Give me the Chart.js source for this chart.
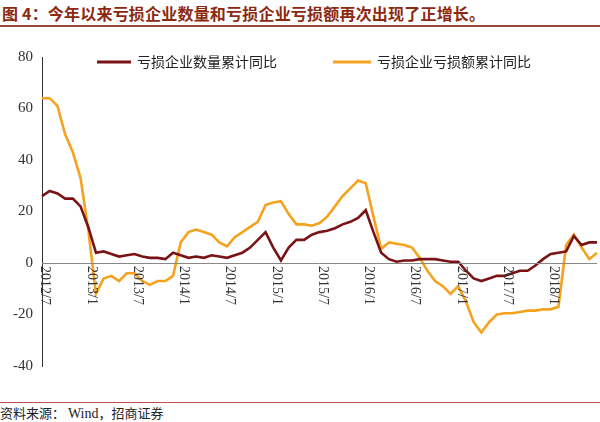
<!DOCTYPE html>
<html><head><meta charset="utf-8">
<script src="https://cdn.jsdelivr.net/npm/chart.js@4"></script>
<style>
body{margin:0;width:600px;height:422px;background:#fff;position:relative;overflow:hidden;font-family:"Noto Sans CJK SC";}
#t{position:absolute;left:2px;top:1px;font-size:16px;font-weight:bold;color:#8B2A10;white-space:nowrap;letter-spacing:0.2px;}
#tl{position:absolute;left:0;top:25px;width:600px;height:1.5px;background:#9B4A3A;}
#sl{position:absolute;left:0;top:402px;width:600px;height:1px;background:#C0504D;}
#s{position:absolute;left:0;top:403px;font-size:13px;color:#222;white-space:nowrap;}
#s span{font-family:"Liberation Serif";font-size:14px;}
canvas{position:absolute;left:0;top:0;}
</style></head><body>
<div id="t">图 4：今年以来亏损企业数量和亏损企业亏损额再次出现了正增长。</div>
<div id="tl"></div>
<div id="sl"></div>
<div id="s">资料来源： <span>Wind</span>，招商证券</div>
<div style="position:absolute;left:0;top:0;width:600px;height:422px"><canvas id="c"></canvas></div>
<script>
const startYear = 2012, startMonth = 7, nPoints = 73;
const categories = [];
for (let k = 0; k < nPoints; k++) { const m = startMonth - 1 + k; categories.push((startYear + Math.floor(m / 12)) + '/' + (m % 12 + 1)); }
const tickLabels = ['2012/7','2013/1','2013/7','2014/1','2014/7','2015/1','2015/7','2016/1','2016/7','2017/1','2017/7','2018/1'];
const seriesNames = ['亏损企业数量累计同比', '亏损企业亏损额累计同比'];
const countYoY = [26,28,27,25,25,22,14,4,4.5,3.5,2.5,3,3.5,2.5,2,2,1.5,4,3,2,2.5,2,3,2.5,2,3,4,6,9,12,6,1,6,9,9,11,12,12.5,13.5,15,16,17.5,20.5,12,4,1.5,0.5,1,1,1.5,1.5,1.5,1,0.5,0.5,-3,-6,-7,-6,-5,-5,-4,-3,-3,-1,1.5,3.5,4,4.5,10.5,7,8,8];
const lossYoY = [64,64,61,50,43,33,13,-12,-6,-5,-7,-4,-4,-7,-8.5,-7,-7,-5,8,12,13,12,11,8,6.5,10,12,14,16,22.5,23.5,24,19,15,15,14.5,15.5,18,22,26,29,32,31,18,5.5,8,7.5,7,6,2,-3,-7,-9,-12,-9,-15,-23,-27,-23,-20,-19.5,-19.5,-19,-18.5,-18.5,-18,-18,-17,7,11,6,1.5,4];
const yTicks = [80,60,40,20,0,-20,-40];
const colors = ['#7A1315', '#F5A31E'];

const deco = {
  id: 'deco',
  afterDraw(chart) {
    const ctx = chart.ctx, x = chart.scales.x, y = chart.scales.y;
    const y0 = y.getPixelForValue(0);
    ctx.save();
    ctx.strokeStyle = '#888'; ctx.lineWidth = 1;
    ctx.beginPath(); ctx.moveTo(chart.chartArea.left, y0 + 0.5); ctx.lineTo(chart.chartArea.right, y0 + 0.5); ctx.stroke();
    ctx.fillStyle = '#333'; ctx.font = '14px "Liberation Serif"';
    ctx.textAlign = 'left'; ctx.textBaseline = 'middle';
    tickLabels.forEach(c => {
      const i = categories.indexOf(c);
      const px = x.getPixelForValue(i);
      ctx.save(); ctx.translate(px + 3, y0 + 3); ctx.rotate(Math.PI / 2); ctx.fillText(c, 0, 0); ctx.restore();
    });
    const items = [[97, 137], [333, 377]];
    ctx.font = '14px "Noto Sans CJK SC"';
    items.forEach((it, k) => {
      ctx.strokeStyle = colors[k]; ctx.lineWidth = 3;
      ctx.beginPath(); ctx.moveTo(it[0], 62); ctx.lineTo(it[1] - 6, 62); ctx.stroke();
      ctx.fillStyle = '#222'; ctx.fillText(seriesNames[k], it[1], 62);
    });
    ctx.restore();
  }
};

new Chart(document.getElementById('c'), {
  type: 'line',
  data: { labels: categories, datasets: [
    { label: seriesNames[0], data: countYoY, borderColor: colors[0], borderWidth: 2.6, pointRadius: 0, tension: 0 },
    { label: seriesNames[1], data: lossYoY, borderColor: colors[1], borderWidth: 2.6, pointRadius: 0, tension: 0 }
  ]},
  options: {
    responsive: true, maintainAspectRatio: false, animation: false,
    layout: { padding: { top: 57, bottom: 56, left: 0, right: 3 } },
    plugins: { legend: { display: false }, tooltip: { enabled: false } },
    scales: {
      x: { display: false, offset: false },
      y: { min: -40, max: 80, afterBuildTicks(s) { s.ticks = yTicks.map(v => ({ value: v })); },
        afterFit(s) { s.width = 42; },
        border: { display: true, color: '#333', width: 1 },
        grid: { display: false, drawOnChartArea: false, drawTicks: true, tickLength: 5, tickColor: '#333' },
        ticks: { color: '#333', font: { family: 'Liberation Serif', size: 15 }, padding: 4 } }
    }
  },
  plugins: [deco]
});
</script></body></html>
